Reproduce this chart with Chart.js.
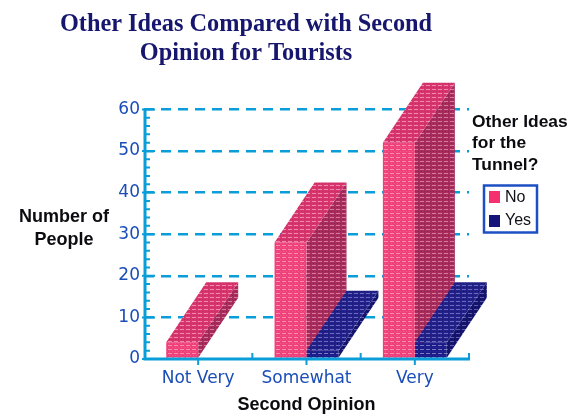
<!DOCTYPE html>
<html>
<head>
<meta charset="utf-8">
<style>html,body{margin:0;padding:0;background:#fff}canvas{display:block;filter:blur(0.35px)}</style>
<script src="https://cdn.jsdelivr.net/npm/chart.js@4"></script>
</head>
<body>
<div style="width:569px;height:416px;position:relative"><canvas id="c" width="569" height="416"></canvas></div>
<script>
const categories = ['Not Very', 'Somewhat', 'Very'];
const noValues = [4, 28, 52];
const yesValues = [0, 2, 4];
const titleLines = ['Other Ideas Compared with Second', 'Opinion for Tourists'];
const yTitleLines = ['Number of', 'People'];
const xTitle = 'Second Opinion';
const legendTitleLines = ['Other Ideas', 'for the', 'Tunnel?'];
const seriesNames = ['No', 'Yes'];

const AXIS = '#0a9ed9', LABEL = '#1a4db8', BOXBLUE = '#1c4fc4', NAVY = '#16166e';
const DX = 40, DY = -60;

function hatch(base, dot, rowDot) {
  const t = document.createElement('canvas');
  t.width = 6; t.height = 4;
  const g = t.getContext('2d');
  g.fillStyle = base; g.fillRect(0, 0, 6, 4);
  g.fillStyle = dot; g.fillRect(0, 1, 4, 1);
  g.fillStyle = rowDot; g.fillRect(1, 3, 1, 1); g.fillRect(4, 3, 1, 1);
  return document.createElement('canvas').getContext('2d').createPattern(t, 'repeat');
}
const fills = {
  No: {
    front: hatch('#f0407a', '#f98db0', '#ee5c8c'),
    top: hatch('#d8356e', '#f08aac', '#c02c60'),
    side: hatch('#a82c5c', '#d8789c', '#8c2050')
  },
  Yes: {
    front: hatch('#1c1c88', '#7a7ac8', '#2a2a98'),
    top: hatch('#22228a', '#6a6ac0', '#16166e'),
    side: hatch('#15156e', '#5c5cb0', '#101060')
  }
};

function drawFaces(chart, index) {
  const ctx = chart.ctx;
  const ds = chart.data.datasets[index];
  const f = fills[ds.label];
  chart.getDatasetMeta(index).data.forEach((bar, i) => {
    if (!ds.data[i]) return;
    const p = bar.getProps(['x', 'y', 'base', 'width'], true);
    const l = p.x - p.width / 2, r = p.x + p.width / 2;
    const poly = (pts, fill) => {
      ctx.beginPath();
      pts.forEach((q, k) => k ? ctx.lineTo(q[0], q[1]) : ctx.moveTo(q[0], q[1]));
      ctx.closePath();
      ctx.fillStyle = fill;
      ctx.fill();
    };
    ctx.save();
    poly([[r, p.base], [r + DX, p.base + DY], [r + DX, p.y + DY], [r, p.y]], f.side);
    poly([[l, p.y], [r, p.y], [r + DX, p.y + DY], [l + DX, p.y + DY]], f.top);
    ctx.restore();
  });
}

const faces3d = {
  id: 'faces3d',
  afterLayout(chart) {
    chart.titleBlock.left = 0;
    chart.titleBlock.right = 492;
  },
  beforeDatasetsDraw(chart) { drawFaces(chart, 0); },
  afterDatasetsDraw(chart) { drawFaces(chart, 1); },
  afterDraw(chart) {
    const ctx = chart.ctx, xs = chart.scales.x, ys = chart.scales.y;
    const y0 = ys.getPixelForValue(0);
    ctx.save();
    ctx.strokeStyle = AXIS;
    ctx.lineWidth = 3;
    ctx.beginPath();
    ctx.moveTo(xs.left + 1, ys.getPixelForValue(60) - 1);
    ctx.lineTo(xs.left + 1, y0 + 1.5);
    ctx.moveTo(xs.left, y0);
    ctx.lineTo(xs.right + 1, y0);
    ctx.stroke();
    ctx.lineWidth = 2;
    ctx.beginPath();
    ys.ticks.forEach(t => {
      ctx.moveTo(xs.left - 2, ys.getPixelForValue(t.value));
      ctx.lineTo(xs.left + 11, ys.getPixelForValue(t.value));
    });
    for (let v = 0; v < 60; v += 2) {
      if (v % 10 === 0) continue;
      ctx.moveTo(xs.left + 1, ys.getPixelForValue(v));
      ctx.lineTo(xs.left + 6, ys.getPixelForValue(v));
    }
    categories.forEach((c, i) => {
      const cx = xs.getPixelForValue(i);
      ctx.moveTo(cx, y0);
      ctx.lineTo(cx, y0 + 6);
      const bx = cx + (xs.getPixelForValue(1) - xs.getPixelForValue(0)) / 2;
      ctx.moveTo(bx, y0);
      ctx.lineTo(bx, y0 - 6);
    });
    ctx.stroke();

    ctx.fillStyle = '#0c0c10';
    ctx.font = 'bold 18px "Liberation Sans"';
    ctx.textAlign = 'center';
    ctx.textBaseline = 'middle';
    yTitleLines.forEach((t, i) => ctx.fillText(t, 64, 217 + i * 23));

    ctx.font = 'bold 17.4px "Liberation Sans"';
    ctx.textAlign = 'left';
    legendTitleLines.forEach((t, i) => ctx.fillText(t, 472, 122 + i * 21.5));
    ctx.strokeStyle = BOXBLUE;
    ctx.lineWidth = 2.5;
    ctx.strokeRect(484, 185.5, 53, 47);
    ctx.font = '16px "Liberation Sans"';
    seriesNames.forEach((s, i) => {
      ctx.fillStyle = i ? '#14147a' : '#f5306e';
      ctx.fillRect(489, 191 + i * 24, 11, 12);
      ctx.fillStyle = '#101018';
      ctx.fillText(s, 505, 198 + i * 23);
    });
    ctx.restore();
  }
};

new Chart(document.getElementById('c'), {
  type: 'bar',
  data: {
    labels: categories,
    datasets: [
      { label: seriesNames[0], data: noValues, backgroundColor: fills.No.front },
      { label: seriesNames[1], data: yesValues, backgroundColor: fills.Yes.front }
    ]
  },
  options: {
    responsive: false,
    animation: false,
    layout: { padding: { right: 100, left: 0, top: 0, bottom: 0 } },
    datasets: { bar: { categoryPercentage: 0.59, barPercentage: 1 } },
    plugins: {
      legend: { display: false },
      tooltip: { enabled: false },
      title: {
        display: true,
        text: titleLines,
        color: NAVY,
        font: { family: '"Liberation Serif"', size: 24.3, weight: 'bold', lineHeight: 1.16 },
        padding: { top: 11, bottom: 42 }
      }
    },
    scales: {
      x: {
        grid: { display: false },
        border: { display: false },
        afterFit(s) { s.height = 57; },
        ticks: { color: LABEL, font: { family: '"DejaVu Sans"', size: 17 }, padding: 1, maxRotation: 0 },
        title: {
          display: true, text: xTitle, color: '#0c0c10',
          font: { family: '"Liberation Sans"', size: 18, weight: 'bold' },
          padding: { top: 5, bottom: 0 }
        }
      },
      y: {
        min: 0, max: 60,
        afterFit(s) { s.width = 144; },
        grid: {
          drawTicks: false,
          color: c => c.tick.value === 0 ? 'rgba(0,0,0,0)' : AXIS,
          lineWidth: 2.5
        },
        border: { display: false, dash: [10, 7] },
        ticks: { stepSize: 10, color: LABEL, font: { family: '"DejaVu Sans"', size: 17 }, padding: 4 }
      }
    }
  },
  plugins: [faces3d]
});
</script>
</body>
</html>
